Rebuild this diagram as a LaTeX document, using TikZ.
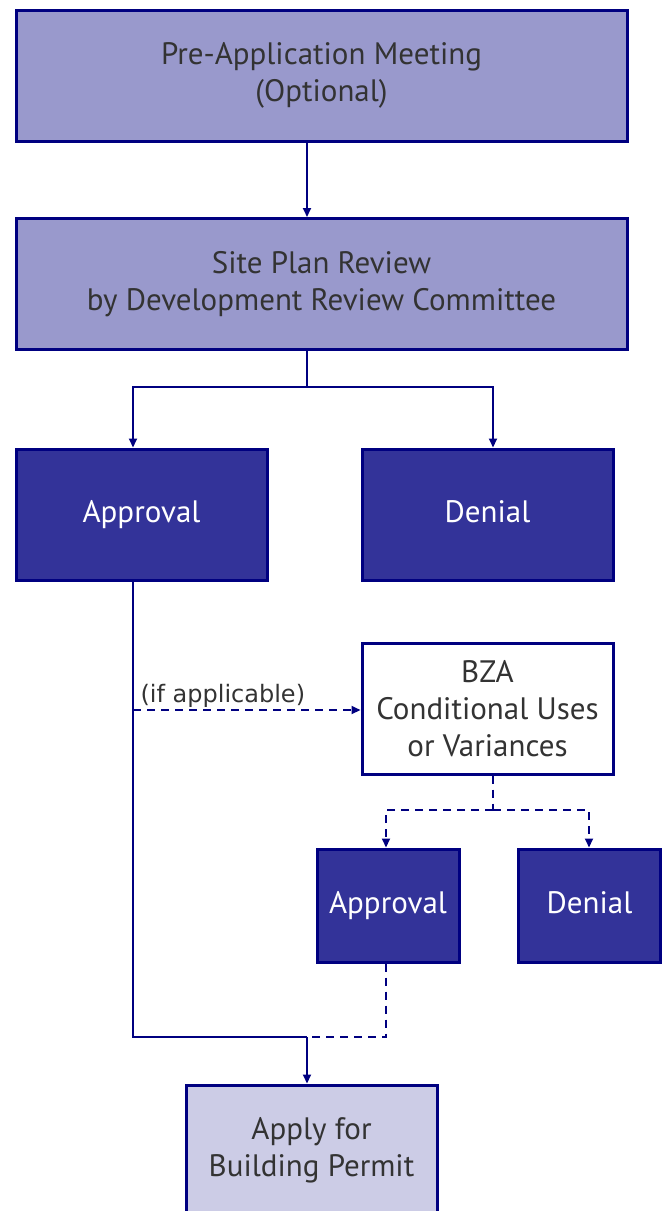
\documentclass[tikz,border=0pt]{standalone}
\usepackage{fontspec}
\setmainfont{PT Sans}
\newfontfamily\notefont{DejaVu Sans}
\usetikzlibrary{arrows.meta,calc}
\definecolor{navyline}{HTML}{000080}
\definecolor{lightbox}{HTML}{9999CC}
\definecolor{darkbox}{HTML}{333399}
\definecolor{paleBox}{HTML}{CCCCE6}
\definecolor{boxtext}{HTML}{333333}
\tikzset{
    stepbox/.style = {draw = navyline, line width = 3pt, rectangle, align = center,
        inner sep = 0pt, font = \fontsize{31}{37}\selectfont},
    lightstep/.style = {stepbox, fill = lightbox, text = boxtext, minimum width = 611pt, minimum height = 131pt},
    darkstep/.style = {stepbox, fill = darkbox, text = white, minimum width = 251pt, minimum height = 131pt,
        text height = 22pt, text depth = 7pt},
    link/.style = {draw = navyline, line width = 2pt},
    linkto/.style = {link, -{Triangle[width = 8pt, length = 9pt]}},
    optional/.style = {dash pattern = on 8pt off 6pt}
}
\begin{document}
\begin{tikzpicture}[x = 1pt, y = -1pt]
    \clip (0,0) rectangle (666,1211);
    \useasboundingbox (0,0) rectangle (666,1211);
    % main review steps
    \node[lightstep] (pre) at (321.5, 75.5) {Pre-Application Meeting\\(Optional)};
    \node[lightstep] (site) at (321.5, 284) {Site Plan Review\\by Development Review Committee};
    \node[darkstep] (approve) at (141.5, 514.5) {Approval};
    \node[darkstep] (deny) at (487.5, 514.5) {Denial};
    % board of zoning appeals
    \node[stepbox, fill = white, text = boxtext, minimum width = 251pt, minimum height = 131pt]
        (bza) at (487.5, 708.5) {BZA\\Conditional Uses\\or Variances};
    \node[darkstep, minimum width = 142pt, minimum height = 113pt] (bzaok) at (388, 905.5) {Approval};
    \node[darkstep, minimum width = 142pt, minimum height = 113pt] (bzano) at (589.5, 905.5) {Denial};
    \node[stepbox, fill = paleBox, text = boxtext, minimum width = 251pt, minimum height = 131pt]
        (permit) at (311.5, 1150.5) {Apply for\\Building Permit};
    % junctions
    \coordinate (split) at (307, 387);
    \coordinate (left) at (133, 387);
    \coordinate (right) at (493, 387);
    \coordinate (bzasplit) at (493, 810);
    \coordinate (bzaleft) at (386, 810);
    \coordinate (bzaright) at (589, 810);
    \coordinate (merge) at (307, 1037);
    \coordinate (note) at (133, 710);

    \draw[linkto] (split |- pre.south) -- (split |- site.north);
    \draw[link] (split |- site.south) -- (split);
    \draw[linkto] (split) -- (left) -- (left |- approve.north);
    \draw[linkto] (split) -- (right) -- (right |- deny.north);
    \draw[link] (left |- approve.south) -- (left |- merge) -- (merge);
    \draw[linkto, optional] (note) -- (note -| bza.west)
        node[pos = 0.02, above right, inner sep = 2pt, text = boxtext, font = \notefont\fontsize{24}{28}\selectfont] {(if applicable)};
    \draw[link, optional] (bzasplit |- bza.south) -- (bzasplit);
    \draw[linkto, optional] (bzasplit) -- (bzaleft) -- (bzaleft |- bzaok.north);
    \draw[linkto, optional] (bzasplit) -- (bzaright) -- (bzaright |- bzano.north);
    \draw[link, optional] (bzaleft |- bzaok.south) -- (bzaleft |- merge) -- (merge);
    \draw[linkto] (merge) -- (merge |- permit.north);
\end{tikzpicture}
\end{document}
